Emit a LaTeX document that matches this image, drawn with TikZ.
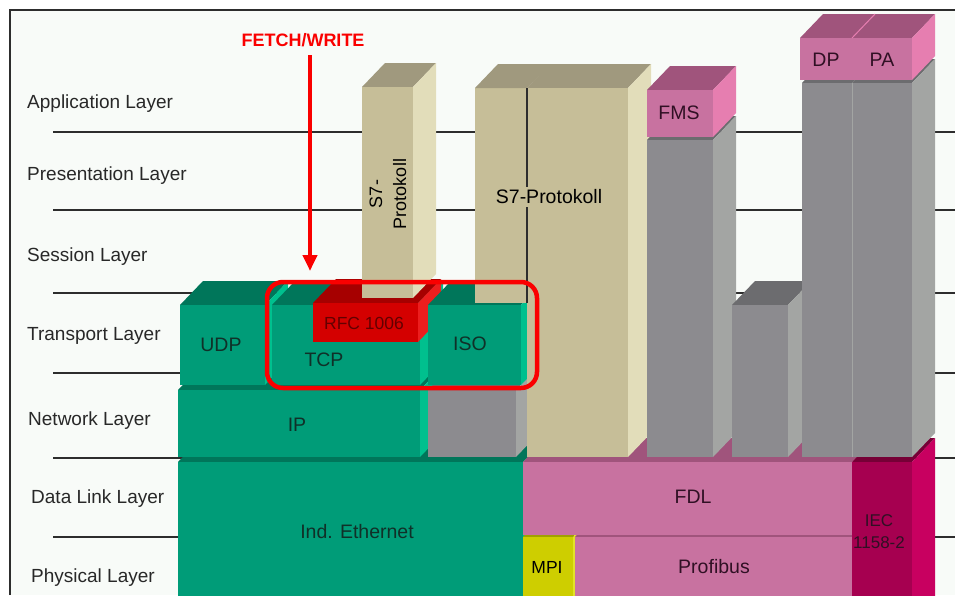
\documentclass[tikz,border=0pt]{standalone}
\usepackage{fontspec}
\setmainfont{Liberation Sans}
\usetikzlibrary{arrows.meta}
\definecolor{PaperBg}{RGB}{248,251,248}
\definecolor{LineGray}{RGB}{45,45,45}
\definecolor{LabelText}{RGB}{40,40,40}
\definecolor{FwRed}{RGB}{250,0,0}
\definecolor{EthFront}{RGB}{0,156,120}
\definecolor{EthTop}{RGB}{0,118,90}
\definecolor{EthSide}{RGB}{0,192,142}
\definecolor{EthText}{RGB}{16,48,40}
\definecolor{TanFront}{RGB}{198,190,152}
\definecolor{TanTop}{RGB}{160,153,126}
\definecolor{TanSide}{RGB}{226,221,186}
\definecolor{GreyFront}{RGB}{140,139,143}
\definecolor{GreyTop}{RGB}{108,108,111}
\definecolor{GreySide}{RGB}{163,165,163}
\definecolor{PinkFront}{RGB}{200,114,160}
\definecolor{PinkTop}{RGB}{160,84,124}
\definecolor{PinkSide}{RGB}{230,126,176}
\definecolor{PinkText}{RGB}{48,16,36}
\definecolor{MagFront}{RGB}{166,0,80}
\definecolor{MagTop}{RGB}{118,0,54}
\definecolor{MagSide}{RGB}{200,0,96}
\definecolor{YelFront}{RGB}{206,206,0}
\definecolor{YelTop}{RGB}{160,160,0}
\definecolor{YelSide}{RGB}{226,226,40}
\definecolor{RfcFront}{RGB}{212,0,0}
\definecolor{RfcTop}{RGB}{166,0,0}
\definecolor{RfcSide}{RGB}{236,30,30}
% 3D block: x1, y1 (front top left), x2, y2 (front bottom right), colour set
\newcommand{\block}[5]{%
    \fill[#5Top] (#1,#2) -- ++(23,-24) -- (#3+23,#2-24) -- (#3,#2) -- cycle;
    \fill[#5Side] (#3,#2) -- ++(23,-24) -- (#3+23,#4-24) -- (#3,#4) -- cycle;
    \fill[#5Front] (#1,#2) rectangle (#3,#4);
}

\begin{document}
\begin{tikzpicture}[x=1pt, y=-1pt,
        lay/.style={anchor=west, inner sep=0pt, text=LabelText,
                    font=\fontsize{19}{22}\selectfont},
        lbl/.style={inner sep=1pt, align=center, font=\fontsize{19.5}{22}\selectfont},
        small/.style={inner sep=1pt, align=center, font=\fontsize{17.5}{21}\selectfont},
        layerline/.style={draw=LineGray, line width=1.5pt},
        fwlabel/.style={text=FwRed, font=\bfseries\fontsize{18}{20}\selectfont},
        fwarrow/.style={-{Triangle[width=14pt,length=16pt]}, draw=FwRed, line width=4pt},
        hilite/.style={draw=FwRed, line width=4.5pt, rounded corners=16pt}
]
    \useasboundingbox (0,0) rectangle (955,595);
    \clip (0,0) rectangle (955,595);
    \fill[PaperBg] (10,10) rectangle (955,595);
    \draw[LineGray, line width=1.5pt] (10,595) -- (10,10) -- (955,10);

    % layer separators
    \foreach \y in {132,210,293,373,458,537}
        \draw[layerline] (53,\y) -- (955,\y);

    % layer names
    \node[lay] (lapp)   at (27,104) {Application Layer};
    \node[lay] (lpres)  at (27,176) {Presentation Layer};
    \node[lay] (lsess)  at (27,257) {Session Layer};
    \node[lay] (ltrans) at (27,336) {Transport Layer};
    \node[lay] (lnet)   at (28,421) {Network Layer};
    \node[lay] (ldata)  at (31,499) {Data Link Layer};
    \node[lay] (lphys)  at (31,578) {Physical Layer};

    % physical and data link
    \block{178}{462}{523}{620}{Eth}
    \block{523}{537}{573}{620}{Yel}
    \block{575}{537}{852}{620}{Pink}
    \block{523}{462}{852}{535}{Pink}
    \block{852}{462}{912}{620}{Mag}
    \node[lbl, text=EthText] (eth) at (357,532) {Ind. Ethernet};
    \node[small] (mpi) at (547,567) {MPI};
    \node[lbl, text=PinkText] (prof) at (714,567) {Profibus};
    \node[lbl, text=PinkText] (fdl) at (693,497) {FDL};
    \node[small, text=PinkText, font=\fontsize{17}{22}\selectfont] (iec) at (879,532) {IEC\\1158-2};

    % network
    \block{178}{390}{420}{457}{Eth}
    \block{428}{390}{516}{457}{Grey}
    \node[lbl, text=EthText] (ip) at (297,425) {IP};

    % transport
    \block{180}{305}{265}{385}{Eth}
    \block{272}{305}{420}{385}{Eth}
    \block{313}{303}{418}{342}{Rfc}
    \block{362}{87}{413}{298}{Tan}
    \block{428}{305}{521}{385}{Eth}
    \node[lbl, text=EthText] (udp) at (221,345) {UDP};
    \node[lbl, text=EthText] (tcp) at (324,360) {TCP};
    \node[small, text=RfcTop!60!black] (rfc) at (364,323) {RFC 1006};
    \node[lbl, text=EthText] (iso) at (470,344) {ISO};
    \node[small, rotate=90, font=\fontsize{18}{24}\selectfont] (s7a) at (388,194) {S7-\\Protokoll};

    % S7 protocol on ISO and on FDL
    \fill[TanFront] (475,88) rectangle (527,303);
    \block{527}{88}{628}{457}{Tan}
    \fill[TanTop] (475,88) -- ++(23,-24) -- (551,64) -- (527,88) -- cycle;
    \draw[LineGray, line width=1.5pt] (527,88) -- (527,303);
    \node[lbl, fill=TanFront, inner ysep=3pt] (s7b) at (549,197) {S7-Protokoll};

    % Profibus stacks
    \block{647}{140}{713}{457}{Grey}
    \block{647}{90}{713}{137}{Pink}
    \block{732}{305}{788}{457}{Grey}
    \block{802}{83}{852}{457}{Grey}
    \block{852}{83}{912}{457}{Grey}
    \draw[GreySide, line width=1pt] (852,83) -- (852,457);
    \block{800}{38}{852}{80}{Pink}
    \block{852}{38}{912}{80}{Pink}
    \draw[PinkSide, line width=1pt] (852,38) -- ++(23,-24);
    \node[lbl, text=PinkText] (fms) at (679,113) {FMS};
    \node[lbl, text=PinkText] (dp) at (826,60) {DP};
    \node[lbl, text=PinkText] (pa) at (882,60) {PA};

    % FETCH/WRITE path
    \draw[hilite] (267,282) rectangle (537,388);
    \node[fwlabel] (fw) at (303,40) {FETCH/WRITE};
    \coordinate (fwtip) at (310,271);
    \draw[fwarrow] (fw.south -| fwtip) ++(0,5) -- (fwtip);
\end{tikzpicture}
\end{document}
